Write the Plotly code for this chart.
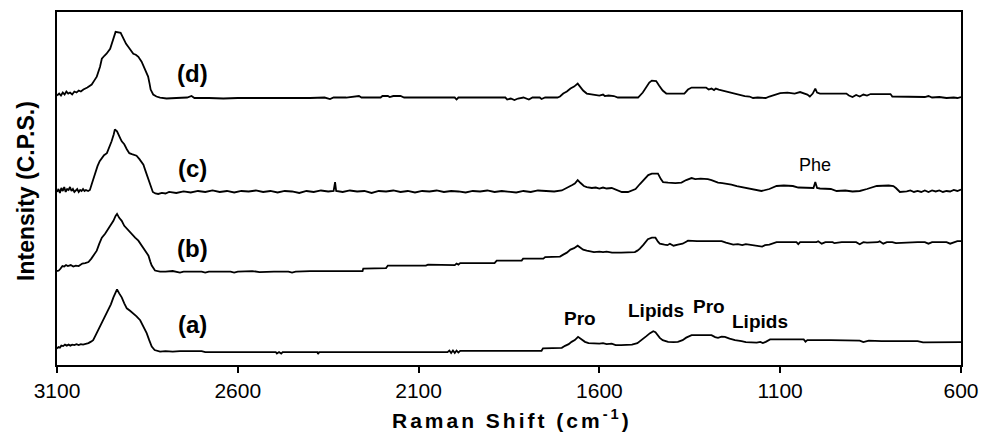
import plotly.graph_objects as go

# ---------------- data (stacked Raman spectra, arbitrary intensity units) ----------------
wn_a = [3100, 3096, 3092, 3088, 3083, 3078, 3073, 3068, 3063, 3058, 3052, 3046, 3040, 3034, 3028, 3020,
        3013, 3006, 3000, 2993, 2986, 2979, 2972, 2965, 2958, 2951, 2944, 2938, 2934, 2928, 2921, 2914,
        2907, 2898, 2889, 2880, 2870, 2861, 2852, 2845, 2838, 2830, 2824, 2815, 2800, 2780, 2760, 2740,
        2720, 2700, 2690, 2650, 2600, 2550, 2495, 2492, 2486, 2480, 2476, 2440, 2400, 2380, 2378, 2375,
        2300, 2250, 2200, 2150, 2100, 2050, 2020, 2015, 2010, 2005, 2000, 1995, 1990, 1985, 1900, 1800,
        1760, 1756, 1720, 1704, 1695, 1685, 1677, 1668, 1659, 1650, 1640, 1630, 1621, 1600, 1590, 1580,
        1566, 1555, 1540, 1521, 1510, 1495, 1483, 1470, 1460, 1451, 1445, 1433, 1425, 1410, 1395, 1383,
        1370, 1360, 1345, 1320, 1290, 1280, 1272, 1262, 1253, 1240, 1225, 1207, 1195, 1180, 1165, 1155,
        1148, 1140, 1128, 1100, 1060, 1035, 1030, 1025, 960, 900, 880, 870, 860, 855, 820, 790,
        760, 720, 705, 650, 640, 620, 610, 600]
int_a = [16.5, 18, 17.5, 19.5, 19, 20.5, 19.5, 20.5, 19.5, 20.5, 20, 21, 20, 21, 20.5, 21,
         22, 23.5, 25, 30, 35, 40, 45, 50, 55, 61, 68, 73, 76, 72, 68, 62,
         57, 54.5, 52, 49, 45, 39, 32, 25, 18.5, 15, 14.3, 13.5, 14, 13.5, 14, 14,
         13.5, 14, 13, 13, 13, 13, 13, 11.5, 13, 11.5, 13, 13, 13, 13, 11, 13,
         13, 13, 13, 13, 13, 13, 13, 14.5, 12, 14.5, 12, 14.5, 12.5, 14.3, 14.3, 14.3,
         14.3, 16.7, 16.7, 17.3, 19.3, 21, 23.3, 25, 28.3, 26, 23.3, 22, 21.7, 21.5, 22, 21,
         21.5, 20, 20, 20, 20.5, 22, 25, 29, 32, 34, 33, 27.3, 25, 23.3, 23, 23.3,
         25, 27.5, 30, 30, 30, 28, 27.3, 28.5, 28.3, 26.5, 25, 24, 23, 22.7, 22.5, 23.3,
         22, 23.3, 25.7, 25.7, 25.7, 25.7, 23.5, 25, 25, 25, 24.5, 23, 24, 24.5, 24, 24,
         24, 24, 22.7, 22.7, 23.2, 22.7, 23, 23]

wn_b = [3100, 3095, 3090, 3085, 3080, 3075, 3070, 3062, 3055, 3048, 3040, 3036, 3030, 3022, 3013, 3005,
        2997, 2990, 2983, 2976, 2967, 2958, 2950, 2944, 2938, 2934, 2928, 2921, 2914, 2907, 2900, 2893,
        2884, 2875, 2868, 2861, 2854, 2847, 2842, 2838, 2829, 2815, 2800, 2780, 2760, 2750, 2700, 2690,
        2680, 2620, 2610, 2600, 2560, 2540, 2500, 2460, 2450, 2440, 2400, 2373, 2255, 2253, 2190, 2185,
        2080, 2074, 2010, 2000, 1995, 1990, 1985, 1890, 1884, 1815, 1811, 1755, 1750, 1709, 1700, 1690,
        1680, 1670, 1660, 1652, 1645, 1635, 1625, 1615, 1600, 1590, 1580, 1565, 1540, 1520, 1502, 1495,
        1488, 1478, 1466, 1455, 1445, 1438, 1433, 1420, 1412, 1405, 1395, 1383, 1370, 1360, 1355, 1330,
        1300, 1262, 1250, 1240, 1230, 1217, 1205, 1195, 1185, 1165, 1150, 1142, 1130, 1110, 1080, 1055,
        1050, 1045, 1000, 995, 985, 975, 955, 950, 930, 890, 880, 870, 860, 830, 825, 815,
        805, 790, 780, 740, 720, 700, 690, 680, 640, 630, 620, 615, 610, 600]
int_b = [94.5, 95, 97, 99.5, 99, 100.5, 99.5, 100.5, 99, 100, 99.5, 100.5, 102, 102.5, 103.5, 107,
         111, 115, 122, 128, 132, 137, 141, 145, 150, 152, 148, 145, 140, 137, 134, 132,
         128, 125, 121, 117, 113, 110, 104, 100, 95, 94, 94, 94.5, 93, 94, 94, 93,
         94, 94, 93, 94, 94.5, 93.5, 94, 94, 93, 94, 94.5, 94.5, 94.5, 97, 97.5, 100,
         100, 101, 101, 100.5, 102, 101, 102.5, 102.5, 105, 105, 107, 107, 108.5, 109, 111, 113,
         116, 117.5, 120, 118, 116, 115, 114, 113.5, 114, 113.5, 114, 113, 113, 113.5, 113.5, 115,
         117, 121, 126.5, 128, 128, 124, 122, 121, 120.5, 122, 120, 121, 122, 124, 125, 124.5,
         124.5, 124.5, 123, 122, 121, 121.5, 120.5, 121.5, 121, 119.5, 119, 120.5, 121, 123.5, 123.5, 123.5,
         121.5, 123.5, 123.5, 124.5, 122, 123.5, 123.5, 122.5, 123.5, 123.5, 121.5, 123.5, 123, 123.5, 124.5, 122,
         123.5, 123.5, 122.5, 123.5, 123.5, 123.5, 122, 123.5, 123.5, 122, 123.5, 123.5, 124.5, 124.5]

wn_c = [3100, 3096, 3092, 3088, 3084, 3080, 3076, 3072, 3068, 3064, 3060, 3056, 3052, 3048, 3044, 3040,
        3036, 3032, 3028, 3024, 3020, 3014, 3009, 3003, 2996, 2988, 2982, 2976, 2970, 2962, 2955, 2949,
        2943, 2940, 2934, 2931, 2925, 2921, 2914, 2907, 2900, 2893, 2886, 2880, 2872, 2866, 2861, 2856,
        2852, 2846, 2840, 2835, 2828, 2820, 2810, 2800, 2790, 2770, 2750, 2730, 2710, 2690, 2670, 2650,
        2630, 2610, 2590, 2570, 2550, 2530, 2510, 2490, 2470, 2450, 2430, 2410, 2390, 2370, 2350, 2335,
        2331, 2328, 2310, 2290, 2270, 2250, 2230, 2210, 2190, 2170, 2150, 2130, 2110, 2090, 2070, 2050,
        2030, 2010, 1990, 1970, 1950, 1930, 1910, 1890, 1870, 1850, 1830, 1810, 1790, 1770, 1750, 1725,
        1704, 1695, 1685, 1675, 1668, 1660, 1652, 1643, 1635, 1621, 1610, 1600, 1590, 1580, 1566, 1555,
        1545, 1538, 1521, 1515, 1500, 1488, 1474, 1465, 1455, 1438, 1430, 1424, 1410, 1390, 1373, 1360,
        1345, 1335, 1320, 1300, 1290, 1272, 1260, 1250, 1235, 1220, 1198, 1180, 1165, 1152, 1130, 1110,
        1090, 1065, 1050, 1020, 1008, 1003, 998, 990, 960, 944, 920, 900, 880, 860, 840, 833,
        800, 787, 780, 769, 750, 740, 730, 720, 710, 700, 690, 680, 670, 660, 650, 640,
        630, 620, 610, 600]
int_c = [174, 177, 173, 178, 175, 179, 174, 177, 176, 179, 175, 177, 174, 176, 177, 174,
         176, 175, 177, 175, 176, 175, 176, 183, 192, 200, 205, 208, 211, 213, 219, 225,
         232, 237, 235, 232, 228, 225, 222, 217, 213, 212, 211, 210.5, 207, 204, 201.5, 196,
         192, 186, 178, 174, 172.5, 172, 173, 172.5, 174, 173, 174.5, 173.5, 175, 174, 175.5, 174,
         175, 173.5, 175, 174.5, 175.5, 174, 175, 173.5, 175, 174.5, 173, 175, 174, 175.5, 174.5, 175,
         184, 175, 174, 175.5, 174.5, 175, 173, 175, 174.5, 175.5, 174, 175, 173.5, 175, 174.5, 175.5,
         174, 175, 174.5, 173.5, 175, 174.5, 175.5, 174, 175, 174.5, 173.5, 175, 174, 175.5, 175, 174.5,
         175.5, 177, 179, 181, 182.5, 186, 183, 180, 179, 178, 178.5, 177.5, 178.5, 177.5, 178, 176.5,
         175, 174, 174, 175, 177, 182, 188, 191, 192.5, 192.5, 187, 184, 183.5, 183, 183.5, 186,
         188, 187, 187.5, 187, 186, 183.5, 183, 182.5, 181.5, 180, 178.5, 177, 175.5, 175, 177, 180,
         180.5, 180, 178.5, 178, 178, 184, 178, 177.5, 177, 175, 175.5, 174.5, 175, 177, 179, 180,
         180.5, 180, 178, 174, 174.5, 175.5, 174, 175, 174, 175.5, 174, 175.5, 174.5, 175.5, 174, 175,
         174.5, 176, 175, 176.5]

wn_d = [3100, 3094, 3089, 3084, 3079, 3074, 3069, 3064, 3058, 3052, 3046, 3040, 3034, 3027, 3016, 3004,
        2997, 2990, 2981, 2976, 2969, 2963, 2953, 2948, 2944, 2938, 2924, 2915, 2909, 2903, 2896, 2889,
        2882, 2875, 2866, 2857, 2848, 2844, 2841, 2834, 2825, 2815, 2797, 2770, 2740, 2728, 2720, 2680,
        2640, 2600, 2560, 2520, 2480, 2440, 2400, 2360, 2345, 2335, 2300, 2265, 2258, 2205, 2200, 2185,
        2180, 2170, 2150, 2140, 2100, 2050, 2000, 1995, 1990, 1950, 1900, 1860, 1855, 1845, 1835, 1825,
        1810, 1795, 1785, 1765, 1760, 1750, 1716, 1709, 1700, 1690, 1680, 1670, 1660, 1652, 1645, 1635,
        1620, 1600, 1590, 1585, 1575, 1560, 1549, 1520, 1493, 1480, 1470, 1462, 1455, 1443, 1435, 1425,
        1415, 1400, 1380, 1365, 1355, 1345, 1320, 1305, 1298, 1290, 1283, 1278, 1270, 1260, 1250, 1240,
        1230, 1215, 1205, 1198, 1185, 1175, 1162, 1140, 1130, 1120, 1110, 1100, 1080, 1060, 1045, 1035,
        1025, 1018, 1010, 1003, 998, 990, 960, 917, 910, 900, 890, 880, 870, 860, 850, 820,
        795, 790, 770, 740, 700, 690, 680, 660, 640, 620, 610, 600]
int_d = [271, 273, 271, 274, 272, 275, 273, 274, 272, 275, 274, 276, 275, 277, 279, 282,
         286, 290, 300, 308, 311, 313, 318, 324, 330, 335, 334, 327, 323, 320, 316, 313,
         312, 310, 305, 298, 290, 283, 277, 272, 270, 269, 268, 268.5, 269, 270.5, 268.5, 268.5,
         268, 268.5, 268.5, 268, 268.5, 268.5, 268.5, 269, 267.5, 269, 269, 270.5, 269, 269, 270.5, 270.5,
         269.5, 270.5, 270.5, 269, 269, 269, 269, 267, 269, 269, 269, 269, 267, 268, 266.5, 268,
         269, 267, 269, 269, 267.5, 269, 269, 270, 273, 275, 278, 280, 283, 279, 276, 273,
         272, 271, 272, 270.5, 271, 270.5, 269, 269, 269, 274, 280, 284, 286, 285.5, 281, 276,
         273, 273, 273, 273, 277, 279, 279, 279, 277, 278, 276.5, 278, 277, 276, 275, 274,
         273.5, 271.5, 271, 270.5, 270, 268.5, 269, 268.5, 270, 271, 272, 273.5, 274, 273, 274.5, 273.5,
         272, 270, 273, 278, 274, 273, 273, 273, 271, 269.5, 271.5, 270, 272, 271, 272.5, 272.5,
         272.5, 270, 270, 270, 269.5, 270.5, 269, 269.5, 268.5, 269, 268.5, 269.5]

tick_vals = [3100, 2600, 2100, 1600, 1100, 600]
tick_text = ["3100", "2600", "2100", "1600", "1100", "600"]

FONT = "Liberation Sans, Arial, sans-serif"

fig = go.Figure()
for wn, inten, name in [(wn_a, int_a, "a"), (wn_b, int_b, "b"), (wn_c, int_c, "c"), (wn_d, int_d, "d")]:
    fig.add_trace(go.Scatter(x=wn, y=inten, mode="lines", name=name,
                             line=dict(color="black", width=1.8), showlegend=False))

ann = []
for txt, yv in [("(d)", 293), ("(c)", 198), ("(b)", 117), ("(a)", 41)]:
    ann.append(dict(x=2724, y=yv, xref="x", yref="y", text=txt, showarrow=False,
                    font=dict(family=FONT, size=24, color="black", weight="bold")))
for txt, xv, yv in [("Pro", 1654, 47), ("Lipids", 1444, 55), ("Pro", 1297, 59), ("Lipids", 1156, 44)]:
    ann.append(dict(x=xv, y=yv, xref="x", yref="y", text=txt, showarrow=False,
                    font=dict(family=FONT, size=19, color="black", weight="bold")))
ann.append(dict(x=1004, y=201, xref="x", yref="y", text="Phe", showarrow=False,
                font=dict(family=FONT, size=18, color="black")))
# axis titles
ann.append(dict(x=0.5033, y=0, xref="paper", yref="paper", yshift=-54, xanchor="center", yanchor="middle",
                text='<span style="letter-spacing:3px">Raman Shift (cm<sup>-1</sup>)</span>', showarrow=False,
                font=dict(family=FONT, size=21, color="black", weight="bold")))
ann.append(dict(x=0, y=0.493, xref="paper", yref="paper", xshift=-31, xanchor="center", yanchor="middle",
                text="Intensity (C.P.S.)", textangle=-90, showarrow=False,
                font=dict(family=FONT, size=23, color="black", weight="bold")))

# the page body adds an 8px offset; margins compensate so the plot box lands at x 57-961, y 10-365
fig.update_layout(
    width=994, height=439,
    margin=dict(l=49, r=41, t=2, b=82),
    paper_bgcolor="white", plot_bgcolor="white",
    annotations=ann,
    xaxis=dict(range=[3100, 600], tickvals=tick_vals, ticktext=tick_text,
               showline=True, linecolor="black", linewidth=2, mirror=True,
               ticks="outside", ticklen=6, tickwidth=2, tickcolor="black",
               showgrid=False, zeroline=False,
               tickfont=dict(family=FONT, size=21, color="black")),
    yaxis=dict(range=[0, 355], showline=True, linecolor="black", linewidth=2, mirror=True,
               ticks="", showticklabels=False, showgrid=False, zeroline=False),
)

fig.write_html("out.html")
